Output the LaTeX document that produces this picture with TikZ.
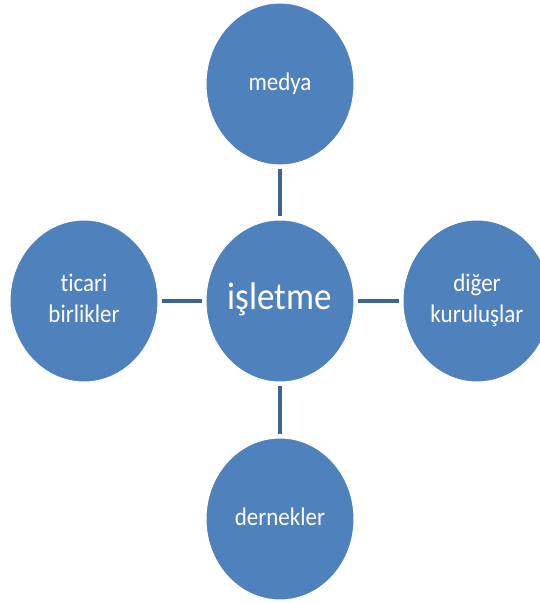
\documentclass[tikz,border=0pt]{standalone}
\usepackage{fontspec}
\usepackage{graphicx}
\setmainfont{Carlito}[Ligatures=NoCommon]
\usetikzlibrary{shapes.geometric}
\definecolor{bubble}{RGB}{79,129,189}
\definecolor{link}{RGB}{62,99,150}
\newcommand{\tallt}[1]{\scalebox{1}[1.1]{\begin{tabular}{@{}c@{}}#1\end{tabular}}}
\tikzset{
  bubble/.style={ellipse, fill=bubble, draw=white, line width=1pt, minimum width=148pt, minimum height=162pt, inner sep=0pt, text=white, align=center, font=\fontsize{23}{27.5}\selectfont},
  hub/.style={bubble, font=\fontsize{35}{40}\selectfont},
  linkline/.style={draw=link, line width=4.5pt, shorten <=3.5pt, shorten >=3.5pt}
}
\begin{document}
\begin{tikzpicture}[x=1pt,y=1pt]
\useasboundingbox (0,0) rectangle (540,603);
\clip (0,0) rectangle (540,603);
\node[hub] (isletme) at (280,302) {\tallt{işletme}};
\node[bubble] (medya) at (280,519) {\tallt{medya}};
\node[bubble] (ticari) at (84,302) {\tallt{ticari\\birlikler}};
\node[bubble] (diger) at (477,302) {\tallt{diğer\\kuruluşlar}};
\node[bubble] (dernekler) at (280,84) {\tallt{dernekler}};
\draw[linkline] (medya) -- (isletme);
\draw[linkline] (isletme) -- (dernekler);
\draw[linkline] (ticari) -- (isletme);
\draw[linkline] (isletme) -- (diger);
\end{tikzpicture}
\end{document}
